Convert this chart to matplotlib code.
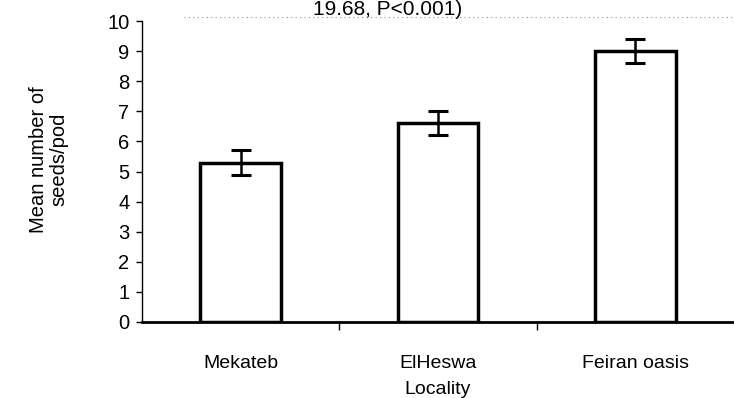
import numpy as np
import matplotlib.pyplot as plt

plt.rcParams['font.family'] = ['Liberation Sans', 'DejaVu Sans']

# Data
localities = ["Mekateb", "ElHeswa", "Feiran oasis"]
mean_seeds = [5.3, 6.6, 9.0]
seeds_err = [0.4, 0.4, 0.4]

fig = plt.figure(figsize=(7.34, 3.98), dpi=100)
ax = fig.add_axes([0.1935, 0.191, 0.8065, 0.756])

x = np.arange(len(localities))
ax.bar(x, mean_seeds, width=0.41, color="white", edgecolor="black", linewidth=2.5, zorder=2)
ax.errorbar(x, mean_seeds, yerr=seeds_err, fmt="none", ecolor="black",
            elinewidth=1.8, capsize=7, capthick=2.2, zorder=3)

ax.set_xlim(-0.5, 2.5)
ax.set_ylim(0, 10)
ax.set_yticks(range(0, 11))
ax.set_xticks(x)
ax.set_xticklabels(localities, fontsize=14)
ax.set_xticks([0.5, 1.5], minor=True)
ax.tick_params(axis="x", which="major", length=0, pad=24)
ax.tick_params(axis="x", which="minor", length=6, width=1, direction="out")
ax.tick_params(axis="y", length=4, width=1, labelsize=14.5, pad=5)

ax.spines["top"].set_visible(False)
ax.spines["right"].set_visible(False)
ax.spines["left"].set_linewidth(1.0)
ax.spines["bottom"].set_linewidth(2.0)

ax.set_xlabel("Locality", fontsize=14, labelpad=6)
ax.set_ylabel("Mean number of\nseeds/pod", fontsize=14.5, linespacing=1.05)
ax.yaxis.set_label_coords(-0.125, 0.54)

# faint dotted border at the top (scan remnant) and last line of the title
fig.add_artist(plt.Line2D([0.25, 1.0], [0.957, 0.957], color="0.55", lw=0.8,
                          linestyle=(0, (1, 3))))
fig.text(0.528, 1 - 15 / 398, "19.68, P<0.001)", ha="center", va="baseline", fontsize=15)

fig.savefig("out.png", dpi=100)
